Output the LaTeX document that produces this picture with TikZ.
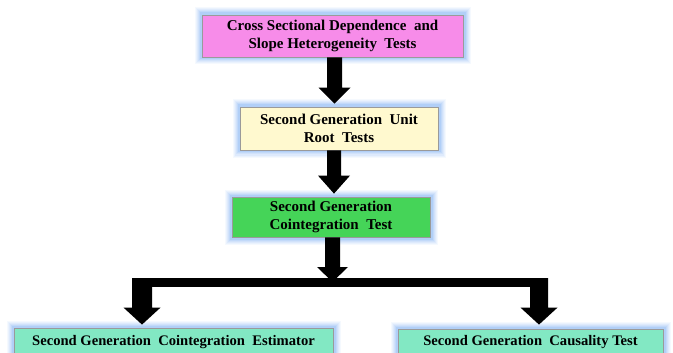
\documentclass[tikz,border=0pt]{standalone}
\usepackage{fontspec}
\setmainfont{Liberation Serif}
\usetikzlibrary{calc}
\definecolor{pinkc}{HTML}{F78CE9}
\definecolor{creamc}{HTML}{FFF9CF}
\definecolor{greenc}{HTML}{45D458}
\definecolor{mintc}{HTML}{82E8C3}
\definecolor{bordc}{HTML}{9A9A9A}
\definecolor{glowc}{HTML}{8AB8F5}
\newcommand\blockarrow[5]{%
  \fill[black] ($(#1)+(-#3/2,0)$) -- ($(#2)+(-#3/2,-#5)$) -- ($(#2)+(-#4/2,-#5)$) -- (#2)
    -- ($(#2)+(#4/2,-#5)$) -- ($(#2)+(#3/2,-#5)$) -- ($(#1)+(#3/2,0)$) -- cycle;}
\tikzset{
  box/.style={draw=bordc, line width=0.8pt, align=center, inner sep=0pt,
    font=\fontsize{15}{18}\selectfont\bfseries,
    preaction={draw=glowc, line width=15pt, opacity=0.08, rounded corners=7pt},
    preaction={draw=glowc, line width=13pt, opacity=0.10, rounded corners=6pt},
    preaction={draw=glowc, line width=11pt, opacity=0.12, rounded corners=5pt},
    preaction={draw=glowc, line width=9pt, opacity=0.15, rounded corners=4pt},
    preaction={draw=glowc, line width=7pt, opacity=0.2, rounded corners=3pt},
    preaction={draw=glowc, line width=5pt, opacity=0.3, rounded corners=2pt}},
  lowbox/.style={box, font=\fontsize{14.6}{17}\selectfont\bfseries},
}
\begin{document}
\begin{tikzpicture}[x=1pt,y=-1pt]
\useasboundingbox[fill=white] (0,0) rectangle (673,353);
\node[box, fill=pinkc, minimum width=261pt, minimum height=42pt] (b1) at (332.5,36)
  {Cross Sectional Dependence\ \ and\\Slope Heterogeneity\ \ Tests};
\node[box, fill=creamc, minimum width=198pt, minimum height=43pt] (b2) at (339,128.5)
  {Second Generation\ \ Unit\\Root\ \ Tests};
\node[box, fill=greenc, minimum width=198pt, minimum height=40pt] (b3) at (331,217)
  {Second Generation\\Cointegration\ \ Test};
\node[lowbox, fill=mintc, minimum width=319pt, minimum height=28pt] (b4) at (173.5,342)
  {Second Generation\ \ Cointegration\ \ Estimator};
\node[lowbox, fill=mintc, minimum width=265pt, minimum height=27pt] (b5) at (530.5,342.5)
  {Second Generation\ \ Causality Test};
% arrow positions
\coordinate (x1) at (334.5,0);
\coordinate (x2) at (334,0);
\coordinate (x3) at (332.5,0);
\coordinate (xl) at (142,0);
\coordinate (xr) at (539,0);
\coordinate (a1s) at (b1.south -| x1);
\coordinate (a1t) at ($(b2.north -| x1)+(0,-3)$);
\coordinate (a2s) at (b2.south -| x2);
\coordinate (a2t) at ($(b3.north -| x2)+(0,-3)$);
\coordinate (a3s) at (b3.south -| x3);
\coordinate (a3t) at (332.5,282);
\coordinate (a4s) at (142,278);
\coordinate (a4t) at ($(b4.north -| xl)+(0,-3)$);
\coordinate (a5s) at (539,278);
\coordinate (a5t) at ($(b5.north -| xr)+(0,-4)$);
\blockarrow{a1s}{a1t}{15}{32}{16}
\blockarrow{a2s}{a2t}{14}{32}{18}
\blockarrow{a3s}{a3t}{15}{31}{15}
\fill[black] ($(a4s)+(-10,0)$) rectangle ($(a5s)+(9,9)$);
\blockarrow{a4s}{a4t}{20}{37}{17}
\blockarrow{a5s}{a5t}{18}{37}{17}
\end{tikzpicture}
\end{document}
